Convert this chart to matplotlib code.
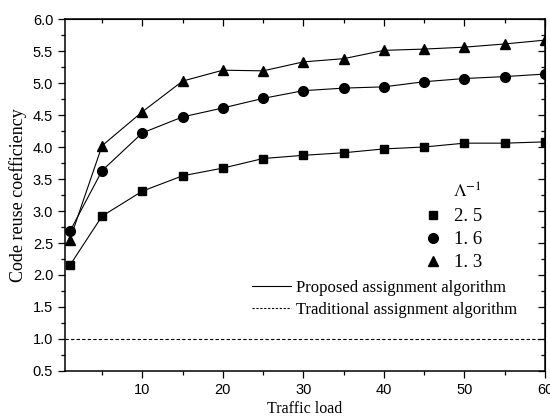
import matplotlib.pyplot as plt
from matplotlib.lines import Line2D
from matplotlib.ticker import MultipleLocator

x = [1, 5, 10, 15, 20, 25, 30, 35, 40, 45, 50, 55, 60]
y_25 = [2.15, 2.92, 3.31, 3.55, 3.67, 3.82, 3.87, 3.91, 3.97, 4.00, 4.06, 4.06, 4.08]
y_16 = [2.68, 3.63, 4.22, 4.47, 4.61, 4.76, 4.88, 4.92, 4.94, 5.02, 5.07, 5.10, 5.14]
y_13 = [2.55, 4.02, 4.55, 5.03, 5.20, 5.19, 5.33, 5.38, 5.51, 5.53, 5.56, 5.61, 5.67]
traditional = 1.0
lam_labels = ["2. 5", "1. 6", "1. 3"]

serif = "Liberation Serif"
sans = "Liberation Sans"
plt.rcParams['mathtext.fontset'] = 'stix'

fig = plt.figure(figsize=(5.5, 4.19), dpi=100)
ax = fig.add_axes([65 / 550, 1 - 371 / 419, 480 / 550, 352 / 419])

ax.plot(x, y_25, 's-', color='black', lw=0.8, ms=6)
ax.plot(x, y_16, 'o-', color='black', lw=0.8, ms=7)
ax.plot(x, y_13, '^-', color='black', lw=0.8, ms=7.5)
ax.axhline(traditional, color='black', lw=0.8, ls=(0, (3, 2)))

ax.set_xlim(0.4, 60)
ax.set_ylim(0.5, 6.0)
ax.xaxis.set_major_locator(MultipleLocator(10))
ax.xaxis.set_minor_locator(MultipleLocator(5))
ax.yaxis.set_major_locator(MultipleLocator(0.5))
ax.yaxis.set_minor_locator(MultipleLocator(0.25))
ax.tick_params(which='both', direction='out', labelsize=10.5, width=0.9)
ax.tick_params(which='major', length=5)
ax.tick_params(which='minor', length=3)
ax.set_xticks([10, 20, 30, 40, 50, 60])
ax.set_xticklabels(['10', '20', '30', '40', '50', '60'], family=sans)
for lab in ax.get_yticklabels():
    lab.set_family(sans)

top = ax.secondary_xaxis('top')
top.xaxis.set_major_locator(MultipleLocator(10))
top.xaxis.set_minor_locator(MultipleLocator(5))
top.tick_params(which='both', direction='in', labeltop=False, width=0.9)
top.tick_params(which='major', length=5)
top.tick_params(which='minor', length=3)
right = ax.secondary_yaxis('right')
right.yaxis.set_major_locator(MultipleLocator(0.5))
right.yaxis.set_minor_locator(MultipleLocator(0.25))
right.tick_params(which='both', direction='in', labelright=False, width=0.9)
right.tick_params(which='major', length=5)
right.tick_params(which='minor', length=3)
for s in ax.spines.values():
    s.set_linewidth(1.1)

ax.set_xlabel("Traffic load", family=serif, fontsize=11.5, labelpad=3)
ax.set_ylabel("Code reuse coefficiency", family=serif, fontsize=13, labelpad=4)

# Lambda^-1 marker legend
ax.text(0.8375, 0.5085, r"$\Lambda^{-1}$", transform=ax.transAxes,
        ha='center', va='center', fontsize=13)
mk = [Line2D([], [], marker=m, color='black', ls='none', ms=s)
      for m, s in [('s', 6), ('o', 7), ('^', 7.5)]]
leg1 = ax.legend(mk, lam_labels, frameon=False,
                 loc='upper left', bbox_to_anchor=(0.752, 0.463),
                 borderpad=0, borderaxespad=0,
                 handlelength=0.8, handletextpad=0.7, labelspacing=0.32,
                 prop={'family': serif, 'size': 13.5})
ax.add_artist(leg1)

ln = [Line2D([], [], color='black', lw=0.8),
      Line2D([], [], color='black', lw=0.8, ls=(0, (2, 1.5)))]
ax.legend(ln, ["Proposed assignment algorithm", "Traditional assignment algorithm"],
          frameon=False, loc='upper left', bbox_to_anchor=(0.39, 0.2586),
          borderpad=0, borderaxespad=0,
          handlelength=2.3, handletextpad=0.35, labelspacing=0.35,
          prop={'family': serif, 'size': 12})

fig.savefig("out.png", dpi=100)
